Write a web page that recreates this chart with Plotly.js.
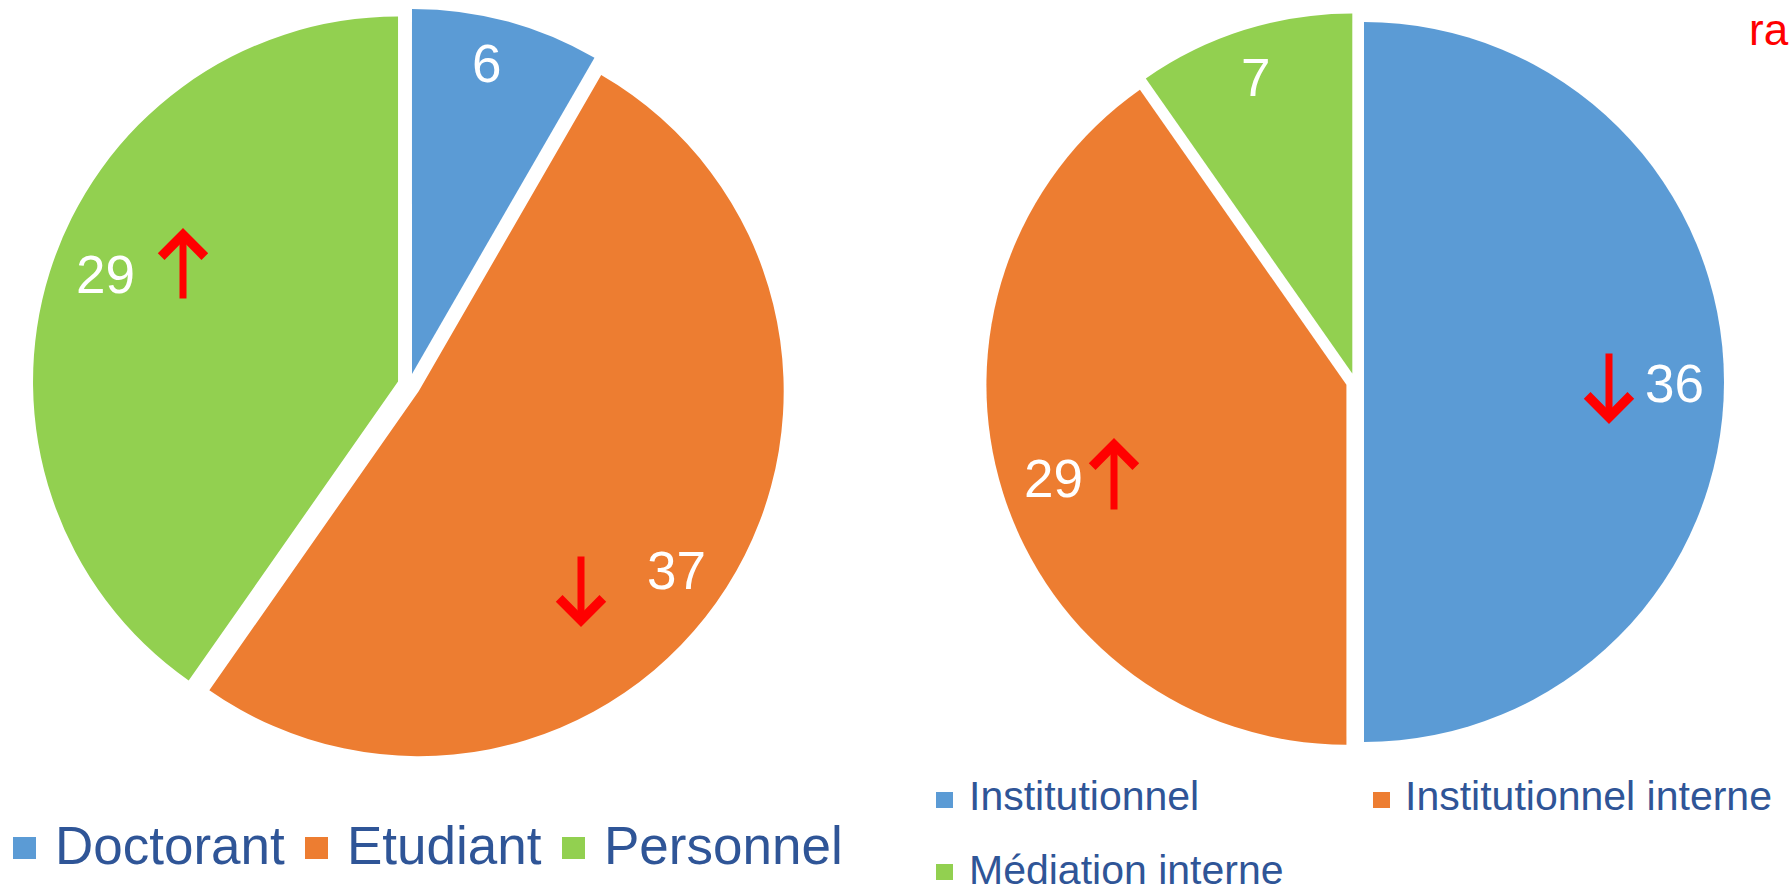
<!DOCTYPE html>
<html>
<head>
<meta charset="utf-8">
<script src="https://cdn.plot.ly/plotly-3.0.1.min.js"></script>
<style>
  html, body { margin: 0; padding: 0; background: #ffffff; overflow: hidden; }
  #chart { width: 1789px; height: 888px; }
</style>
</head>
<body>
<div id="chart"></div>
<script>
// ---- data ----
const leftCategories = ['Doctorant', 'Etudiant', 'Personnel'];
const leftValues = [6, 37, 29];
const leftTrends = ['', 'down', 'up'];

const rightCategories = ['Institutionnel', 'Institutionnel interne', 'Médiation interne'];
const rightValues = [36, 29, 7];
const rightTrends = ['down', 'up', ''];

const sliceColors = ['#5B9BD5', '#ED7D31', '#92D050'];
const cornerText = 'ra';

// ---- layout helpers (pixel -> paper) ----
const W = 1789, H = 888;
const px = x => x / W;
const py = y => 1 - y / H;
const FONT = 'Liberation Sans, Arial, sans-serif';
const LEGEND_COLOR = '#2F5597';

const traces = [
  {
    type: 'pie',
    labels: leftCategories,
    values: leftValues,
    sort: false,
    direction: 'clockwise',
    rotation: 0,
    pull: [0.0315, 0.0315, 0.0315],
    marker: { colors: sliceColors, line: { width: 0 } },
    textinfo: 'none',
    hoverinfo: 'none',
    showlegend: false,
    domain: { x: [px(32.5), px(785.5)], y: [py(761.5), py(8.5)] }
  },
  {
    type: 'pie',
    labels: rightCategories,
    values: rightValues,
    sort: false,
    direction: 'clockwise',
    rotation: 0,
    pull: [0.025, 0.025, 0.025],
    marker: { colors: sliceColors, line: { width: 0 } },
    textinfo: 'none',
    hoverinfo: 'none',
    showlegend: false,
    domain: { x: [px(986), px(1724)], y: [py(751), py(13)] }
  }
];

// data label positions (pixel centres) and trend-arrow boxes [x, top, bottom]
const leftLabelPos = [[486, 63], [676, 570], [105, 274]];
const leftArrowPos = [null, [581, 555, 627], [183, 228, 300]];
const rightLabelPos = [[1674, 383], [1053, 478], [1255, 78]];
const rightArrowPos = [[1609, 352, 424], [1114, 438, 511], null];

const annotations = [];
function addLabels(values, trends, labelPos, arrowPos) {
  values.forEach((v, i) => {
    annotations.push({
      xref: 'paper', yref: 'paper', x: px(labelPos[i][0]), y: py(labelPos[i][1]),
      xanchor: 'center', yanchor: 'middle', showarrow: false,
      text: String(v), font: { family: FONT, size: 53, color: '#ffffff' }
    });
    if (trends[i] && arrowPos[i]) {
      const a = arrowPos[i];
      const len = a[2] - a[1];
      const up = trends[i] === 'up';
      annotations.push({
        xref: 'paper', yref: 'paper',
        x: px(a[0]), y: py(up ? a[1] : a[2]),
        ax: 0, ay: up ? len : -len,
        text: '', showarrow: true,
        arrowhead: 4, arrowsize: 1.2, arrowwidth: 7, arrowcolor: '#FF0000',
        standoff: 0, startstandoff: 0
      });
    }
  });
}
addLabels(leftValues, leftTrends, leftLabelPos, leftArrowPos);
addLabels(rightValues, rightTrends, rightLabelPos, rightArrowPos);

// corner text
annotations.push({
  xref: 'paper', yref: 'paper', x: px(1747), y: py(30),
  xanchor: 'left', yanchor: 'middle', showarrow: false,
  text: cornerText, font: { family: FONT, size: 44, color: '#FF0000' }
});

// manual legends
const shapes = [];
const leftLegend = [
  { marker: [13, 837, 36, 859], textX: 53 },
  { marker: [305, 837, 328, 859], textX: 345 },
  { marker: [562, 837, 585, 859], textX: 602 }
];
leftLegend.forEach((item, i) => {
  const m = item.marker;
  shapes.push({ type: 'rect', xref: 'paper', yref: 'paper',
    x0: px(m[0]), x1: px(m[2]), y0: py(m[3]), y1: py(m[1]),
    fillcolor: sliceColors[i], line: { width: 0 } });
  annotations.push({
    xref: 'paper', yref: 'paper', x: px(item.textX), y: py(845),
    xanchor: 'left', yanchor: 'middle', showarrow: false,
    text: leftCategories[i], font: { family: FONT, size: 53, color: LEGEND_COLOR }
  });
});

const rightLegend = [
  { marker: [936, 792, 953, 808], textX: 967, cy: 796 },
  { marker: [1373, 792, 1390, 808], textX: 1403, cy: 796 },
  { marker: [936, 864, 953, 880], textX: 967, cy: 870 }
];
rightLegend.forEach((item, i) => {
  const m = item.marker;
  shapes.push({ type: 'rect', xref: 'paper', yref: 'paper',
    x0: px(m[0]), x1: px(m[2]), y0: py(m[3]), y1: py(m[1]),
    fillcolor: sliceColors[i], line: { width: 0 } });
  annotations.push({
    xref: 'paper', yref: 'paper', x: px(item.textX), y: py(item.cy),
    xanchor: 'left', yanchor: 'middle', showarrow: false,
    text: rightCategories[i], font: { family: FONT, size: 41, color: LEGEND_COLOR }
  });
});

const layout = {
  width: W, height: H,
  margin: { l: 0, r: 0, t: 0, b: 0, pad: 0 },
  paper_bgcolor: '#ffffff',
  plot_bgcolor: '#ffffff',
  showlegend: false,
  annotations: annotations,
  shapes: shapes,
  font: { family: FONT }
};

Plotly.newPlot('chart', traces, layout, { staticPlot: true, displayModeBar: false });
</script>
</body>
</html>
